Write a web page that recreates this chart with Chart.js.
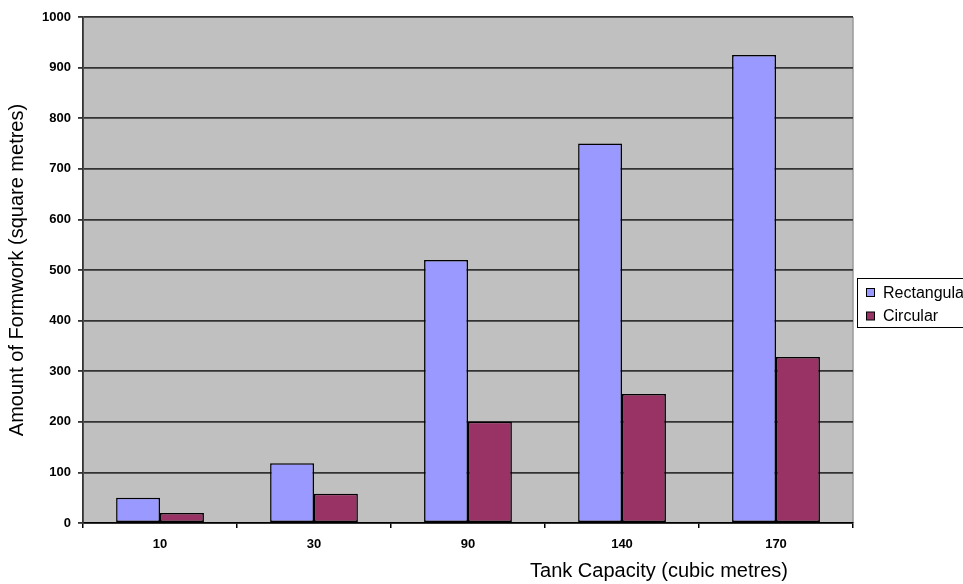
<!DOCTYPE html>
<html>
<head>
<meta charset="utf-8">
<script src="https://cdn.jsdelivr.net/npm/chart.js@4.4.1/dist/chart.umd.min.js"></script>
<style>
  html, body { margin: 0; padding: 0; background: #fff; }
  #wrap { width: 963px; height: 584px; position: relative; }
</style>
</head>
<body>
<div id="wrap"><canvas id="c" width="963" height="584"></canvas></div>
<script>
// Tank capacities (cubic metres) and formwork area (square metres)
const categories = ['10', '30', '90', '140', '170'];
const rectangular = [50, 118, 520, 750, 925];
const circular = [20, 58, 200, 255, 328];
const seriesNames = ['Rectangular', 'Circular'];
const yTicks = [0, 100, 200, 300, 400, 500, 600, 700, 800, 900, 1000];

const FONT = '"Liberation Sans", Arial, sans-serif';
const colors = ['#9999ff', '#993366'];

// Grey plot background with a light border on the right
const plotBackground = {
  id: 'plotBackground',
  beforeDraw(chart) {
    const { ctx, chartArea: a } = chart;
    ctx.save();
    ctx.fillStyle = '#c0c0c0';
    ctx.fillRect(a.left, a.top, a.right - a.left, a.bottom - a.top);
    ctx.strokeStyle = '#9a9a9a';
    ctx.lineWidth = 1.5;
    ctx.beginPath();
    ctx.moveTo(a.right, a.top);
    ctx.lineTo(a.right, a.bottom);
    ctx.stroke();
    ctx.restore();
  }
};

// Boxed legend on the right and the x-axis caption under the ticks
const sideLegend = {
  id: 'sideLegend',
  afterDraw(chart) {
    const { ctx, chartArea: a } = chart;
    ctx.save();
    const bx = a.right + 4, by = 278, bh = 49;
    ctx.strokeStyle = '#000';
    ctx.lineWidth = 1;
    ctx.strokeRect(bx + 0.5, by + 0.5, 200, bh);
    ctx.font = '16px ' + FONT;
    ctx.textBaseline = 'middle';
    chart.data.datasets.forEach((ds, i) => {
      const cy = by + 14.5 + i * 23.5;
      ctx.fillStyle = ds.backgroundColor;
      ctx.fillRect(bx + 9.5, cy - 4, 8, 8);
      ctx.strokeStyle = '#000';
      ctx.strokeRect(bx + 9.5, cy - 4, 8, 8);
      ctx.fillStyle = '#000';
      ctx.fillText(ds.label, bx + 26, cy + 1);
    });
    ctx.font = '20px ' + FONT;
    ctx.textAlign = 'center';
    ctx.textBaseline = 'alphabetic';
    ctx.fillText('Tank Capacity (cubic metres)', 659, 577);
    ctx.restore();
  }
};

new Chart(document.getElementById('c'), {
  type: 'bar',
  data: {
    labels: categories,
    datasets: [
      { label: seriesNames[0], data: rectangular, backgroundColor: colors[0], borderColor: '#000', borderWidth: 1.5, borderSkipped: false },
      { label: seriesNames[1], data: circular, backgroundColor: colors[1], borderColor: '#000', borderWidth: 1.5, borderSkipped: false }
    ]
  },
  options: {
    responsive: false,
    animation: false,
    devicePixelRatio: 1,
    layout: { padding: { left: 0, top: 17, right: 110, bottom: 0 } },
    plugins: { legend: { display: false }, tooltip: { enabled: false } },
    datasets: { bar: { categoryPercentage: 0.57, barPercentage: 1.0 } },
    scales: {
      x: {
        grid: { offset: true, drawOnChartArea: false, color: '#000', tickLength: 5, lineWidth: 1.5 },
        border: { color: '#000', width: 1.5 },
        ticks: { color: '#000', font: { family: FONT, size: 13, weight: 'bold' }, padding: 9, maxRotation: 0 },
        afterFit(s) { s.height = 61; }
      },
      y: {
        min: 0, max: 1000,
        afterBuildTicks(s) { s.ticks = yTicks.map(v => ({ value: v })); },
        grid: { color: '#333', lineWidth: 1.8, tickLength: 5 },
        border: { color: '#333', width: 1.8 },
        ticks: { color: '#000', font: { family: FONT, size: 13, weight: 'bold' }, padding: 7, callback: v => String(v) },
        title: { display: true, text: 'Amount of Formwork (square metres)', color: '#000', font: { family: FONT, size: 20 }, padding: { top: 5, bottom: 0 } },
        afterFit(s) { s.width = 83; }
      }
    }
  },
  plugins: [plotBackground, sideLegend]
});
</script>
</body>
</html>
